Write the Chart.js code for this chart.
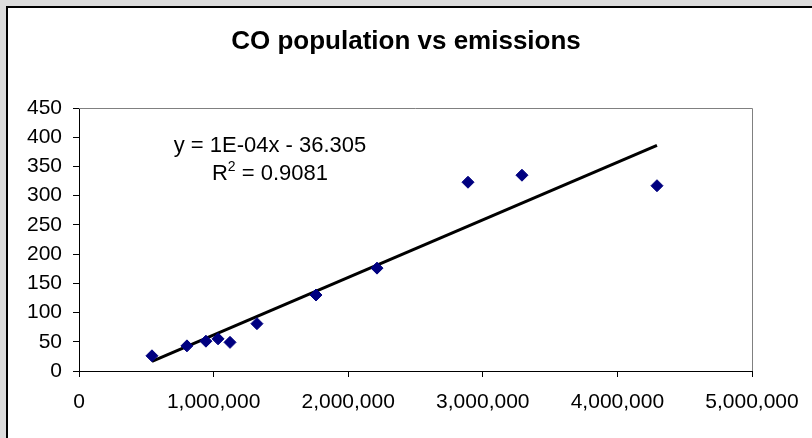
<!DOCTYPE html>
<html>
<head>
<meta charset="utf-8">
<script src="https://cdn.jsdelivr.net/npm/chart.js@4/dist/chart.umd.min.js"></script>
<style>
  html, body { margin: 0; padding: 0; background: #dcdcdc; overflow: hidden; }
  #panel { position: absolute; left: 6px; top: 6px; width: 830px; height: 460px; background: #fff; border: 2px solid #000; }
  #chart { position: absolute; left: 0; top: 0; }
</style>
</head>
<body>
<div id="panel"></div>
<canvas id="chart" width="812" height="438"></canvas>
<script>
// Population (x) and CO emissions (y)
const population = [542000, 802000, 943000, 1033000, 1122000, 1322000, 1761000, 2214000, 2890000, 3291000, 4294000];
const emissions = [26, 43, 51, 55, 49, 81, 130, 176, 323, 335, 317];

const titleText = 'CO population vs emissions';
const equationText = 'y = 1E-04x - 36.305';
const r2Value = '0.9081';

const fontFamily = '"Liberation Sans", Arial, sans-serif';

// least squares trend line through the points
function trendLine(xs, ys) {
    const n = xs.length;
    const mx = xs.reduce((a, b) => a + b, 0) / n;
    const my = ys.reduce((a, b) => a + b, 0) / n;
    let sxy = 0, sxx = 0;
    for (let i = 0; i < n; i++) {
        sxy += (xs[i] - mx) * (ys[i] - my);
        sxx += (xs[i] - mx) * (xs[i] - mx);
    }
    const slope = sxy / sxx;
    const icpt = my - slope * mx;
    const x0 = Math.min(...xs), x1 = Math.max(...xs);
    return [{ x: x0, y: slope * x0 + icpt }, { x: x1, y: slope * x1 + icpt }];
}

const points = population.map((p, i) => ({ x: p, y: emissions[i] }));

const decorations = {
    id: 'decorations',
    beforeDatasetsDraw(chart) {
        const ctx = chart.ctx;
        const a = chart.chartArea;
        ctx.save();
        // plot area frame (top and right)
        ctx.strokeStyle = '#808080';
        ctx.lineWidth = 1;
        ctx.beginPath();
        ctx.moveTo(a.left, a.top + 0.5);
        ctx.lineTo(a.right + 0.5, a.top + 0.5);
        ctx.lineTo(a.right + 0.5, a.bottom);
        ctx.stroke();
        ctx.restore();
    },
    afterDraw(chart) {
        const ctx = chart.ctx;
        const a = chart.chartArea;
        ctx.save();
        ctx.fillStyle = '#000';
        ctx.textBaseline = 'middle';
        ctx.textAlign = 'center';
        ctx.font = 'bold 26px ' + fontFamily;
        ctx.fillText(titleText, 406, 42);

        // trendline label
        const cx = a.left + 191;
        ctx.font = '22px ' + fontFamily;
        ctx.fillText(equationText, cx, a.top + 38);

        const rest = ' = ' + r2Value;
        const wR = ctx.measureText('R').width;
        const wRest = ctx.measureText(rest).width;
        ctx.font = '14px ' + fontFamily;
        const wSup = ctx.measureText('2').width;
        let x = cx - (wR + wSup + wRest) / 2;
        const y = a.top + 66;
        ctx.textAlign = 'left';
        ctx.font = '22px ' + fontFamily;
        ctx.fillText('R', x, y);
        x += wR;
        ctx.font = '14px ' + fontFamily;
        ctx.fillText('2', x, y - 7);
        x += wSup;
        ctx.font = '22px ' + fontFamily;
        ctx.fillText(rest, x, y);
        ctx.restore();
    }
};

new Chart(document.getElementById('chart'), {
    type: 'scatter',
    data: {
        datasets: [{
            label: 'Emissions',
            data: points,
            pointStyle: 'rectRot',
            pointRadius: 6,
            backgroundColor: '#000080',
            borderColor: '#000080',
            borderWidth: 1,
            order: 1
        }, {
            label: 'Trend',
            type: 'line',
            data: trendLine(population, emissions),
            showLine: true,
            borderColor: '#000',
            borderWidth: 3,
            pointRadius: 0,
            fill: false,
            order: 2
        }]
    },
    options: {
        responsive: false,
        animation: false,
        layout: { padding: { left: 0, right: 60, top: 108, bottom: 0 } },
        plugins: {
            legend: { display: false },
            tooltip: { enabled: false },
            title: { display: false }
        },
        scales: {
            x: {
                type: 'linear',
                min: 0,
                max: 5000000,
                ticks: {
                    stepSize: 1000000,
                    color: '#000',
                    font: { family: fontFamily, size: 21 },
                    padding: 13,
                    maxRotation: 0,
                    callback: v => v.toLocaleString('en-US')
                },
                grid: { drawOnChartArea: false, color: '#000', tickLength: 6 },
                border: { color: '#000', width: 1 },
                afterFit: s => { s.height = 67; }
            },
            y: {
                min: 0,
                max: 450,
                ticks: {
                    stepSize: 50,
                    color: '#000',
                    font: { family: fontFamily, size: 21 },
                    padding: 11
                },
                grid: { drawOnChartArea: false, color: '#000', tickLength: 6 },
                border: { color: '#000', width: 1 },
                afterFit: s => { s.width = 79; }
            }
        }
    },
    plugins: [decorations]
});
</script>
</body>
</html>
